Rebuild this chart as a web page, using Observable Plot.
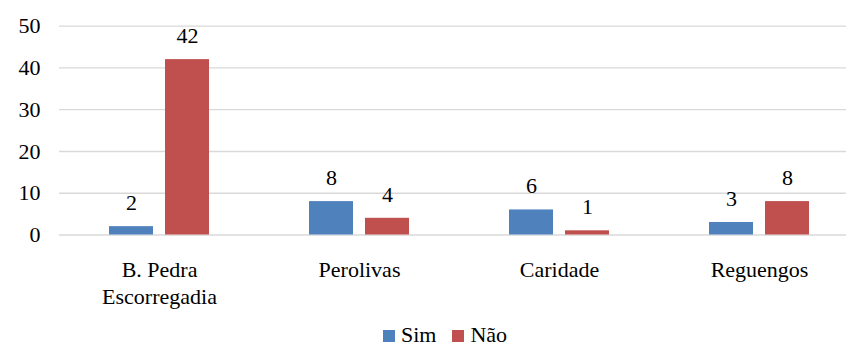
<!DOCTYPE html>
<html>
<head>
<meta charset="utf-8">
<script src="https://cdn.jsdelivr.net/npm/d3@7"></script>
<script src="https://cdn.jsdelivr.net/npm/@observablehq/plot@0.6"></script>
<style>
  html, body { margin: 0; padding: 0; background: #fff; font-family: 'Liberation Serif', serif; }
  .legend { height: 29px; padding-left: 383px; display: flex; align-items: center; font-size: 22px; color: #000; line-height: 1; }
  .legend .sw { width: 12px; height: 12px; display: inline-block; margin-right: 6px; margin-top: 2px; }
  .legend .item { display: flex; align-items: center; margin-right: 16px; }
</style>
</head>
<body>
<div id="g"></div>
<script>
const categories = ["B. Pedra\nEscorregadia", "Perolivas", "Caridade", "Reguengos"];
const series = ["Sim", "N\u00e3o"];
const simValues = [2, 8, 6, 3];
const naoValues = [42, 4, 1, 8];
const yTicks = [0, 10, 20, 30, 40, 50];
const colors = ["#4F81BD", "#C0504D"];
const FONT = "Liberation Serif";

const data = [];
categories.forEach((c, i) => {
  data.push({cat: c, series: series[0], value: simValues[i]});
  data.push({cat: c, series: series[1], value: naoValues[i]});
});

const chart = Plot.plot({
  width: 846,
  height: 320,
  marginLeft: 57,
  marginRight: 0,
  marginTop: 25.7,
  marginBottom: 85.5,
  style: {fontSize: "22px", fontFamily: FONT},
  fx: {domain: categories, range: [57.3, 860.4], padding: 0},
  x: {domain: series, paddingInner: 0.217, paddingOuter: 0.863, axis: null},
  y: {domain: [0, 50], axis: null},
  color: {domain: series, range: colors},
  marks: [
    Plot.ruleY(yTicks, {stroke: "#d9d9d9", strokeWidth: 1.3}),
    Plot.barY(data, {fx: "cat", x: "series", y: "value", fill: "series"}),
    Plot.text(data, {fx: "cat", x: "series", y: "value", text: d => String(d.value), dy: -23.5, fill: "#000", fontFamily: FONT, fontSize: 22}),
    Plot.axisY(yTicks, {tickSize: 0, tickPadding: 19, label: null, fill: "#000", fontFamily: FONT, fontSize: 22}),
    Plot.axisFx({anchor: "bottom", tickSize: 0, tickPadding: 22, lineHeight: 1.25, label: null, fill: "#000", fontFamily: FONT, fontSize: 22})
  ]
});

const g = document.getElementById("g");
g.appendChild(chart);

const legend = document.createElement("div");
legend.className = "legend";
series.forEach((s, i) => {
  const item = document.createElement("span");
  item.className = "item";
  const sw = document.createElement("span");
  sw.className = "sw";
  sw.style.background = colors[i];
  item.appendChild(sw);
  item.appendChild(document.createTextNode(s));
  legend.appendChild(item);
});
g.appendChild(legend);
</script>
</body>
</html>
